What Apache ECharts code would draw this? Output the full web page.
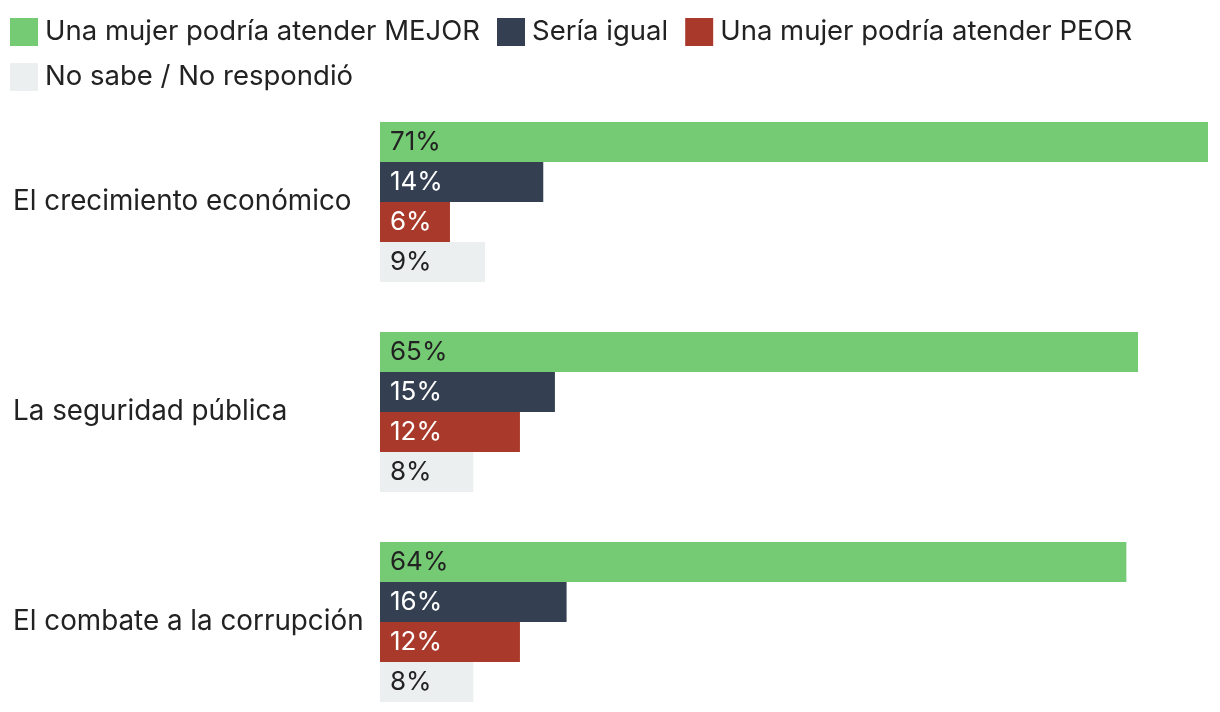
<!DOCTYPE html>
<html><head><meta charset="utf-8">
<script src="https://cdn.jsdelivr.net/npm/echarts@6/dist/echarts.min.js"></script>
<style>html,body{margin:0;padding:0;background:#fff;overflow:hidden}#c{width:1220px;height:727px}</style>
</head><body><div id="c"></div>
<script>
const categories = ["El crecimiento económico", "La seguridad pública", "El combate a la corrupción"];
const seriesNames = ["Una mujer podría atender MEJOR", "Sería igual", "Una mujer podría atender PEOR", "No sabe / No respondió"];
const mejor = [71, 65, 64];
const igual = [14, 15, 16];
const peor = [6, 12, 12];
const noSabe = [9, 8, 8];

const colors = ["#75cb73", "#344052", "#a93a2b", "#ebefef"];
const labelColors = ["#222222", "#ffffff", "#ffffff", "#222222"];
const FONT = "Inter";
const data = [mejor, igual, peor, noSabe];

const chart = echarts.init(document.getElementById('c'), null, {renderer: 'canvas'});
chart.setOption({
  animation: false,
  textStyle: {fontFamily: FONT},
  legend: {
    left: 5, top: 13, width: 1190,
    itemWidth: 28, itemHeight: 28, itemGap: 17,
    icon: 'rect',
    textStyle: {fontSize: 27.5, color: '#222', fontFamily: FONT, padding: [0, 0, 0, 2]},
    data: seriesNames
  },
  grid: {left: 380, right: 12, top: 97, bottom: 0, containLabel: false},
  xAxis: {type: 'value', min: 0, max: 71, show: false},
  yAxis: {
    type: 'category', data: categories, inverse: true,
    axisLine: {show: false}, axisTick: {show: false},
    axisLabel: {align: 'left', margin: 367, fontSize: 27.8, color: '#222', fontFamily: FONT}
  },
  series: data.map((d, i) => ({
    name: seriesNames[i], type: 'bar', data: d,
    barWidth: 40, barGap: '0%',
    itemStyle: {color: colors[i]},
    label: {show: true, position: 'insideLeft', distance: 10,
      formatter: '{c}%', fontSize: 26, color: labelColors[i], fontFamily: FONT}
  }))
});
</script></body></html>
